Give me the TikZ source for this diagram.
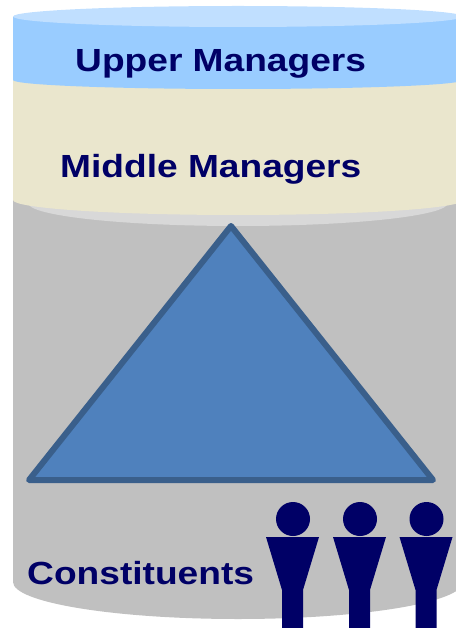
\documentclass[tikz,border=0pt]{standalone}
\usepackage{fontspec}
\setmainfont[FakeStretch=1.16]{Liberation Sans}
\definecolor{upperblue}{HTML}{99CCFF}
\definecolor{uppertop}{HTML}{C0DFFF}
\definecolor{middlecream}{HTML}{EAE6CD}
\definecolor{basegray}{HTML}{C0C0C0}
\definecolor{rimgray}{HTML}{D8D8D8}
\definecolor{navytext}{HTML}{000066}
\definecolor{trifill}{HTML}{4F81BD}
\definecolor{triline}{HTML}{3A5F8B}
\tikzset{
  tierlabel/.style={anchor=base west,inner sep=0pt,text=navytext,font=\fontsize{32}{32}\selectfont\bfseries},
  person/.style={fill=navytext,draw=none}
}
\begin{document}
\begin{tikzpicture}[x=1pt,y=-1pt]
    \useasboundingbox (0,0) rectangle (455,628);
    % gray base, then bands on top of it
    \fill[basegray] (13,190) -- (13,582) arc[start angle=180,end angle=0,x radius=225,y radius=37] -- (463,190) -- cycle;
    \fill[rimgray] (28,203) arc[start angle=180,end angle=0,x radius=210,y radius=23] -- cycle;
    \fill[middlecream] (13,80) -- (13,200) arc[start angle=180,end angle=0,x radius=225,y radius=15] -- (463,80) -- cycle;
    \fill[upperblue] (13,17) -- (13,80) arc[start angle=180,end angle=0,x radius=225,y radius=9] -- (463,17) -- cycle;
    \fill[uppertop] (238,16.5) ellipse[x radius=225,y radius=10.5];
    % triangle
    \draw[line width=6pt,line join=round,fill=trifill,draw=triline] (231,226) -- (433,480) -- (29,480) -- cycle;
    % text
    \node[tierlabel] (upper) at (75,72) {Upper Managers};
    \node[tierlabel] (middle) at (60,178) {Middle Managers};
    \node[tierlabel] (const) at (27,584) {Constituents};
    % people
    \foreach \x/\name in {293/a,360/b,426.5/c}
    {
      \node[person,circle,minimum size=34pt,inner sep=0pt] (head\name) at (\x,519) {};
      \fill[person] (\x-27,537) -- (\x+26,537) -- (\x+10,590) -- (\x+10,628) -- (\x-11,628) -- (\x-11,590) -- cycle;
    }
\end{tikzpicture}
\end{document}
